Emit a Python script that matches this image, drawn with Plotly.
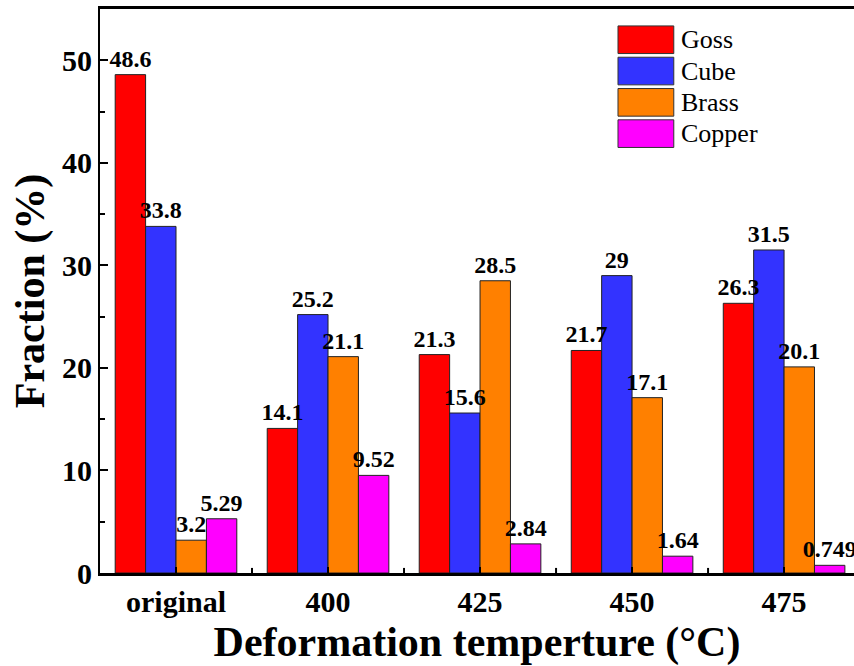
import plotly.graph_objects as go

# Texture component fractions at each deformation temperature
categories = ["original", "400", "425", "450", "475"]
series_names = ["Goss", "Cube", "Brass", "Copper"]
goss = [48.6, 14.1, 21.3, 21.7, 26.3]
cube = [33.8, 25.2, 15.6, 29, 31.5]
brass = [3.2, 21.1, 28.5, 17.1, 20.1]
copper = [5.29, 9.52, 2.84, 1.64, 0.749]
series_colors = ["#FF0000", "#3333FF", "#FF8000", "#FF00FF"]

FONT = "Liberation Serif"
series_values = [goss, cube, brass, copper]

fig = go.Figure()
# Filled bars
for name, vals, col in zip(series_names, series_values, series_colors):
    fig.add_trace(go.Bar(
        x=categories, y=vals, name=name,
        marker=dict(color=col, line=dict(color="#222222", width=1)),
        showlegend=False, xaxis="x", yaxis="y",
    ))
# Value labels on an overlaid subplot so they sit above all bars
for name, vals in zip(series_names, series_values):
    fig.add_trace(go.Bar(
        x=categories, y=vals, name=name,
        marker=dict(color="rgba(0,0,0,0)", line=dict(width=0)),
        text=[f"{v:g}" for v in vals], textposition="outside",
        constraintext="none", cliponaxis=False,
        textfont=dict(family=FONT, size=24, color="black", weight="bold"),
        showlegend=False, hoverinfo="skip", xaxis="x2", yaxis="y2",
    ))

# Legend drawn with large swatches
row_top = 0.030
row_h = 0.0555
sw_h = 0.049
for i, (name, col) in enumerate(zip(series_names, series_colors)):
    y0 = 1 - (row_top + i * row_h)
    fig.add_shape(type="rect", xref="paper", yref="paper",
                  x0=0.687, x1=0.761, y0=y0 - sw_h, y1=y0,
                  fillcolor=col, line=dict(color="#333333", width=1))
    fig.add_annotation(xref="paper", yref="paper", x=0.768, y=y0 - sw_h / 2,
                       text=name, showarrow=False, xanchor="left", yanchor="middle",
                       font=dict(family=FONT, size=26, color="black"))

x_range = [-0.5, 4.46]
y_range = [0, 55]

fig.update_layout(
    width=854, height=666,
    margin=dict(l=100, r=0, t=9, b=93),
    paper_bgcolor="white", plot_bgcolor="white",
    barmode="group", bargap=0.2, bargroupgap=0,
    font=dict(family=FONT, color="black"),
    xaxis=dict(
        range=x_range, showline=True, linecolor="black", linewidth=3,
        mirror=True, ticks="inside", ticklen=6, tickwidth=2, tickcolor="black",
        tickfont=dict(family=FONT, size=30, color="black", weight="bold"),
        title=dict(text="Deformation temperture (°C)", standoff=10,
                   font=dict(family=FONT, size=42, color="black", weight="bold")),
        showgrid=False, zeroline=False,
    ),
    yaxis=dict(
        range=y_range, dtick=10, showline=True, linecolor="black", linewidth=2,
        ticks="inside", ticklen=8, tickwidth=2, tickcolor="black",
        minor=dict(ticks="inside", ticklen=5, tickwidth=2, tickcolor="black", dtick=5),
        tickfont=dict(family=FONT, size=30, color="black", weight="bold"),
        title=dict(text="Fraction (%)", standoff=4,
                   font=dict(family=FONT, size=42, color="black", weight="bold")),
        showgrid=False, zeroline=False,
    ),
    xaxis2=dict(overlaying="x", range=x_range, visible=False, type="category"),
    yaxis2=dict(overlaying="y", range=y_range, visible=False),
)

# Boundary ticks between categories on the bottom axis
for k in range(len(categories) - 1):
    fig.add_shape(type="line", xref="x", yref="paper", x0=k + 0.5, x1=k + 0.5,
                  y0=0, y1=0.009, line=dict(color="black", width=2))

fig.write_html("out.html")
